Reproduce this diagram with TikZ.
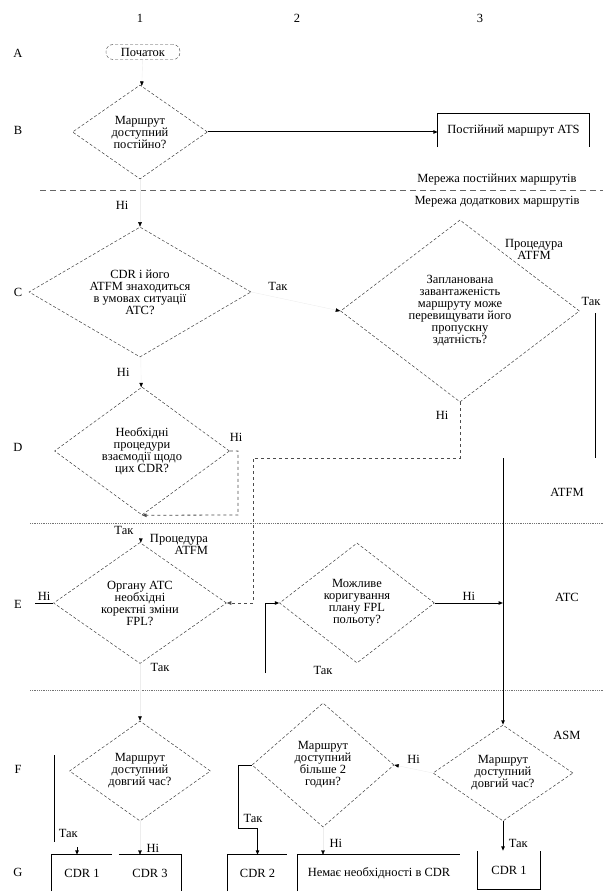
\documentclass[tikz,border=0pt]{standalone}
\usepackage{fontspec}
\setmainfont{Liberation Serif}
\usetikzlibrary{shapes.geometric,arrows.meta}

\begin{document}
\begin{tikzpicture}[x=1pt, y=-1pt, >={Triangle[length=4.5pt,width=3.5pt]},
		every node/.style={font=\fontsize{12.5}{12}\selectfont},
		dia/.style={diamond, draw=black!75, densely dashed, line width=0.5pt, inner sep=0pt, align=center},
		hint/.style={draw=black!7, line width=0.4pt, -{Triangle[length=4.5pt,width=3.5pt,black]}},
		flow/.style={draw=black, line width=1pt},
		dashflow/.style={draw=black!70, dashed, line width=0.8pt},
		sepline/.style={draw=black!55, densely dotted, line width=0.8pt},
		gbox/.style={minimum height=36pt, inner sep=0pt}]
		\useasboundingbox (0,0) rectangle (603,893);

		% column and row marks
		\node (col1) at (140,18) {1};
		\node (col2) at (297,18) {2};
		\node (col3) at (480,18) {3};
		\node (rowA) at (18,53) {A};
		\node (rowB) at (18,130) {B};
		\node (rowC) at (18,292) {C};
		\node (rowD) at (18,447) {D};
		\node (rowE) at (18,604) {E};
		\node (rowF) at (18,769) {F};
		\node (rowG) at (18,872) {G};

		% row A, B
		\node[draw=black!75, densely dashed, rounded corners=7pt, minimum width=74pt, minimum height=15pt, inner sep=1pt] (start) at (143,52) {Початок};
		\node[dia, minimum width=135pt, minimum height=94pt, aspect=1.44] (route) at (140,132) {Маршрут\\доступний\\постійно?};
		\node[minimum width=151pt, minimum height=33pt, inner sep=0pt] (ats) at (513.5,130.5) {Постійний маршрут ATS};
		\draw[flow] (ats.south west) |- (ats.north east) -- (ats.south east);

		\draw[hint] (start) -- (route);
		\draw[flow, ->] (route.east) -- (route.east -| ats.west);

		% network border
		\draw[draw=black!60, dash pattern=on 6pt off 4pt, line width=0.8pt] (40,190) -- (603,190);
		\node (netperm) at (497,180) {Мережа постійних маршрутів};
		\node (netcdr) at (497,202) {Мережа додаткових маршрутів};

		% row C, D
		\node[dia, minimum width=222pt, minimum height=130pt, aspect=1.7] (cdrc) at (140,292) {CDR і його\\ATFM знаходиться\\в умовах ситуації\\ATC?};
		\node[dia, minimum width=239pt, minimum height=182pt, aspect=1.3] (load) at (460,311) {Запланована\\завантаженість\\маршруту може\\перевищувати його\\пропускну\\здатність?};
		\node[align=center] (procA) at (534,249) {Процедура\\ATFM};
		\node[dia, minimum width=175pt, minimum height=128pt, aspect=1.37] (coord) at (142,451) {Необхідні\\процедури\\взаємодії щодо\\цих CDR?};

		\draw[hint] (route) -- (cdrc) node[pos=0.55, left=8pt] (noB) {Ні};
		\draw[hint] (cdrc.east) -- (load.west) node[pos=0.3, above=4pt] (yesC) {Так};
		\draw[hint] (cdrc) -- (coord) node[pos=0.5, left=8pt] (noC) {Ні};
		\node (noD) at (236,437) {Ні};
		\coordinate (dturn) at (238,515);
		\draw[dashflow, ->] (coord.east) -| (dturn) -- (coord.south);

		\node (yesL) at (591,301) {Так};
		\node (noL) at (442,415) {Ні};
		\coordinate (ltop) at (595,313);
		\coordinate (lbot) at (595,458);
		\draw[flow] (ltop) -- (lbot);

		\node (atfm) at (567,492) {ATFM};
		\draw[sepline] (30,523) -- (603,523);

		% row E
		\node[dia, minimum width=173pt, minimum height=121pt, aspect=1.43] (fpl) at (140,603) {Органу ATC\\необхідні\\коректні зміни\\FPL?};
		\node[dia, minimum width=155pt, minimum height=120pt, aspect=1.3] (replan) at (357,603) {Можливе\\коригування\\плану FPL\\польоту?};
		\draw[hint] (coord) -- (fpl) node[pos=0.55, left=4pt] (yesD) {Так};
		\node[align=right] (procB) at (179,544) {Процедура\\ATFM};

		\coordinate (ldown) at (460,458);
		\coordinate (lleft) at (253,458);
		\draw[dashflow, ->] (load.south) -- (ldown) -- (lleft) |- (fpl.east);

		\coordinate (ein) at (35,603);
		\draw[flow] (ein) -- (fpl.west) node[midway, above=-1pt] (noE) {Ні};
		\node (yesE) at (160,667) {Так};
		\coordinate (ebend) at (265,673);
		\draw[flow, ->] (ebend) |- (replan.west);
		\node (yesR) at (323,670) {Так};

		\coordinate (atsm) at (503,458);
		\draw[flow, ->] (replan.east) -- (replan.east -| atsm) node[midway, above=-1pt] (noR) {Ні};
		\node (atc) at (567,597) {ATC};

		\draw[sepline] (30,690) -- (603,690);
		\node (asm) at (567,735) {ASM};

		% row F
		\node[dia, minimum width=141pt, minimum height=100pt, aspect=1.41] (timel) at (140,771) {Маршрут\\доступний\\довгий час?};
		\node[dia, minimum width=142pt, minimum height=124pt, aspect=1.15] (twoh) at (323,765) {Маршрут\\доступний\\більше 2\\годин?};
		\node[dia, minimum width=140pt, minimum height=96pt, aspect=1.46] (timer) at (503,773) {Маршрут\\доступний\\довгий час?};

		\draw[hint] (fpl) -- (timel);
		\draw[flow, ->] (atsm) -- (timer.north);
		\draw[hint] (timer.west) -- (twoh.east) node[midway, above=2pt] (noF) {Ні};

		% row G
		\node[gbox, minimum width=60pt] (gone) at (82,873) {CDR 1};
		\node[gbox, minimum width=62pt] (gthree) at (150,873) {CDR 3};
		\node[gbox, minimum width=59pt] (gtwo) at (257.5,873) {CDR 2};
		\node[gbox, minimum width=162pt] (gnone) at (379,873) {Немає необхідності в CDR};
		\node[gbox, minimum width=62pt, minimum height=38pt] (gonez) at (509,870) {CDR 1};
		\draw[flow] (gone.south west) |- (gone.north east);
		\draw[flow] (gthree.north west) -| (gthree.south east);
		\draw[flow] (gtwo.south west) |- (gtwo.north east);
		\draw[flow] (gnone.south west) |- (gnone.north east);
		\draw[flow] (gonez.north west) |- (gonez.south east) -- (gonez.north east);

		\draw[flow] (54,755) -- (54,842) node[pos=0.9, right=1pt] (yesFl) {Так};
		\coordinate (gonein) at (77,847);
		\draw[flow, ->] (gonein) -- (gonein |- gone.north);
		\draw[hint] (timel.south) -- (timel.south |- gthree.north) node[pos=0.8, right=3pt] (noFl) {Ні};

		\coordinate (twobend) at (238,828);
		\draw[flow, ->] (twoh.west) -| (twobend) -| (gtwo.north);
		\node (yesFm) at (253,818) {Так};
		\draw[hint] (twoh.south) -- (twoh.south |- gnone.north) node[pos=0.6, right=3pt] (noFm) {Ні};
		\draw[flow, ->] (timer.south) -- (timer.south |- gonez.north) node[pos=0.75, right=2pt] (yesFr) {Так};
\end{tikzpicture}
\end{document}
